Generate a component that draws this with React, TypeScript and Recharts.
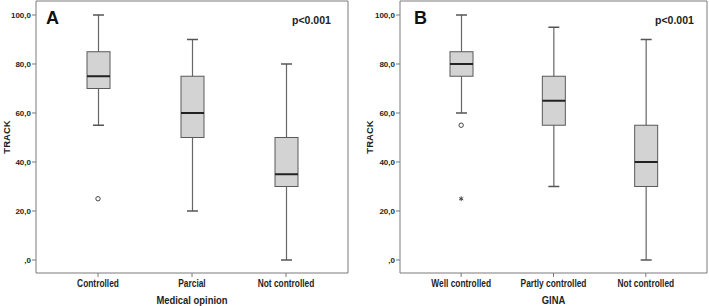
import React from "react";
import {
  ComposedChart,
  Bar,
  Scatter,
  XAxis,
  YAxis,
} from "recharts";

// Panel A: TRACK by medical opinion
const categoriesA = ["Controlled", "Parcial", "Not controlled"];
const minA = [55, 20, 0];
const q1A = [70, 50, 30];
const medianA = [75, 60, 35];
const q3A = [85, 75, 50];
const maxA = [100, 90, 80];
const outliersA = [25, null, null];
const extremesA = [null, null, null];

// Panel B: TRACK by GINA
const categoriesB = ["Well controlled", "Partly controlled", "Not controlled"];
const minB = [60, 30, 0];
const q1B = [75, 55, 30];
const medianB = [80, 65, 40];
const q3B = [85, 75, 55];
const maxB = [100, 95, 90];
const outliersB = [55, null, null];
const extremesB = [25, null, null];

const yTicks = [0, 20, 40, 60, 80, 100];
const yDomain = [-5.31, 105.71];

const SANS = "'Liberation Sans', Arial, sans-serif";
const FRAME = "#7a7a7a";
const TEXT = "#1e1e1e";

type Row = {
  cat: string;
  min: number;
  q1: number;
  median: number;
  q3: number;
  max: number;
  out: number | null;
  ext: number | null;
};

function buildRows(
  cats: string[],
  mins: number[],
  q1s: number[],
  meds: number[],
  q3s: number[],
  maxs: number[],
  outs: (number | null)[],
  exts: (number | null)[]
): Row[] {
  return cats.map((cat, i) => ({
    cat,
    min: mins[i],
    q1: q1s[i],
    median: meds[i],
    q3: q3s[i],
    max: maxs[i],
    out: outs[i],
    ext: exts[i],
  }));
}

// SPSS-like narrow bold text (no narrow font installed, so squeeze horizontally)
const NarrowText = ({ x, y, size, children }: { x: number; y: number; size: number; children: React.ReactNode }) => (
  <g transform={`translate(${x},${y}) scale(0.82,1)`}>
    <text x={0} y={0} textAnchor="middle" fontSize={size} fontWeight={700} fontFamily={SANS} fill={TEXT}>
      {children}
    </text>
  </g>
);

const CategoryTick = (props: any) => {
  const { x, y, payload } = props;
  return <NarrowText x={x} y={y + 8} size={10.2}>{payload.value}</NarrowText>;
};

const makeXLabel = (text: string) => (props: any) => {
  const vb = props.viewBox;
  return (
    <NarrowText x={vb.x + vb.width / 2} y={vb.y + vb.height - 2} size={11.5}>
      {text}
    </NarrowText>
  );
};

// draws whiskers, box and median from the bar spanning [min, max]
const BoxShape = (props: any) => {
  const { x, y, width, height, payload } = props;
  if (x == null || y == null) return <g />;
  const { min, max, q1, q3, median } = payload as Row;
  const py = (v: number) => y + (height * (max - v)) / (max - min);
  const cx = x + width / 2;
  const cap = 5.5;
  return (
    <g>
      <line x1={cx} x2={cx} y1={py(max)} y2={py(min)} stroke="#666" strokeWidth={1.2} />
      <line x1={cx - cap} x2={cx + cap} y1={py(max)} y2={py(max)} stroke="#555" strokeWidth={1.5} />
      <line x1={cx - cap} x2={cx + cap} y1={py(min)} y2={py(min)} stroke="#555" strokeWidth={1.5} />
      <rect
        x={x}
        y={py(q3)}
        width={width}
        height={py(q1) - py(q3)}
        fill="#d3d3d3"
        stroke="#5a5a5a"
        strokeWidth={1}
      />
      <line x1={x} x2={x + width} y1={py(median)} y2={py(median)} stroke="#222" strokeWidth={2} />
    </g>
  );
};

const OutlierShape = (props: any) => {
  const { cx, cy, payload } = props;
  if (payload?.out == null || cx == null || cy == null) return <g />;
  return <circle cx={cx} cy={cy} r={2.2} fill="none" stroke="#444" strokeWidth={1} />;
};

const ExtremeShape = (props: any) => {
  const { cx, cy, payload } = props;
  if (payload?.ext == null || cx == null || cy == null) return <g />;
  const r = 2.4;
  const d = r * 0.87;
  return (
    <g stroke="#333" strokeWidth={0.9}>
      <line x1={cx} x2={cx} y1={cy - r} y2={cy + r} />
      <line x1={cx - d} x2={cx + d} y1={cy - r / 2} y2={cy + r / 2} />
      <line x1={cx - d} x2={cx + d} y1={cy + r / 2} y2={cy - r / 2} />
    </g>
  );
};

function Panel({
  rows,
  width,
  yAxisWidth,
  labelOffset,
  xLabel,
}: {
  rows: Row[];
  width: number;
  yAxisWidth: number;
  labelOffset: number;
  xLabel: string;
}) {
  return (
    <ComposedChart
      width={width}
      height={306}
      data={rows}
      margin={{ top: 0, right: 1, bottom: 0, left: 0 }}
    >
      <XAxis
        dataKey="cat"
        padding={{ left: 15, right: 15 }}
        height={33}
        interval={0}
        axisLine={{ stroke: FRAME }}
        tickLine={{ stroke: FRAME }}
        tickSize={4}
        tickMargin={2}
        tick={<CategoryTick />}
        label={{ content: makeXLabel(xLabel) }}
      />
      <XAxis
        xAxisId="top"
        dataKey="cat"
        orientation="top"
        height={1}
        tick={false}
        tickLine={false}
        axisLine={{ stroke: FRAME }}
      />
      <YAxis
        type="number"
        domain={yDomain}
        ticks={yTicks}
        width={yAxisWidth}
        axisLine={{ stroke: FRAME }}
        tickLine={{ stroke: FRAME }}
        tickSize={4}
        tickMargin={1}
        interval={0}
        allowDataOverflow
        tickFormatter={(v: number) => (v === 0 ? ",0" : `${v},0`)}
        tick={{ fontSize: 8, fontWeight: 700, fill: TEXT, fontFamily: SANS }}
        label={{
          value: "TRACK",
          angle: -90,
          position: "insideLeft",
          offset: labelOffset,
          style: { textAnchor: "middle", fontSize: 9.5, fontWeight: 700, fill: TEXT, fontFamily: SANS },
        }}
      />
      <YAxis
        yAxisId="right"
        orientation="right"
        domain={yDomain}
        width={1}
        tick={false}
        tickLine={false}
        axisLine={{ stroke: FRAME }}
      />
      <Bar
        dataKey={(d: Row) => [d.min, d.max]}
        barSize={23}
        shape={<BoxShape />}
        isAnimationActive={false}
      />
      <Scatter dataKey="out" shape={<OutlierShape />} isAnimationActive={false} />
      <Scatter dataKey="ext" shape={<ExtremeShape />} isAnimationActive={false} />
    </ComposedChart>
  );
}

const letterStyle: React.CSSProperties = {
  position: "absolute",
  fontFamily: SANS,
  fontWeight: 700,
  fontSize: 18,
  lineHeight: "18px",
  color: "#111",
};

const pStyle: React.CSSProperties = {
  position: "absolute",
  fontFamily: SANS,
  fontWeight: 700,
  fontSize: 10.5,
  lineHeight: "12px",
  color: "#222",
};

export default function App() {
  const rowsA = buildRows(categoriesA, minA, q1A, medianA, q3A, maxA, outliersA, extremesA);
  const rowsB = buildRows(categoriesB, minB, q1B, medianB, q3B, maxB, outliersB, extremesB);
  return (
    <div
      style={{
        position: "absolute",
        left: 0,
        top: 0,
        width: 709,
        height: 306,
        background: "#fff",
      }}
    >
      <div style={{ position: "absolute", left: 0, top: 0 }}>
        <Panel rows={rowsA} width={350} yAxisWidth={36} labelOffset={7} xLabel="Medical opinion" />
      </div>
      <div style={{ position: "absolute", left: 355, top: 0 }}>
        <Panel rows={rowsB} width={354} yAxisWidth={45} labelOffset={14.5} xLabel="GINA" />
      </div>
      <div style={{ ...letterStyle, left: 46, top: 9 }}>A</div>
      <div style={{ ...letterStyle, left: 414, top: 9 }}>B</div>
      <div style={{ ...pStyle, left: 292, top: 14 }}>p&lt;0.001</div>
      <div style={{ ...pStyle, left: 655, top: 14 }}>p&lt;0.001</div>
    </div>
  );
}
